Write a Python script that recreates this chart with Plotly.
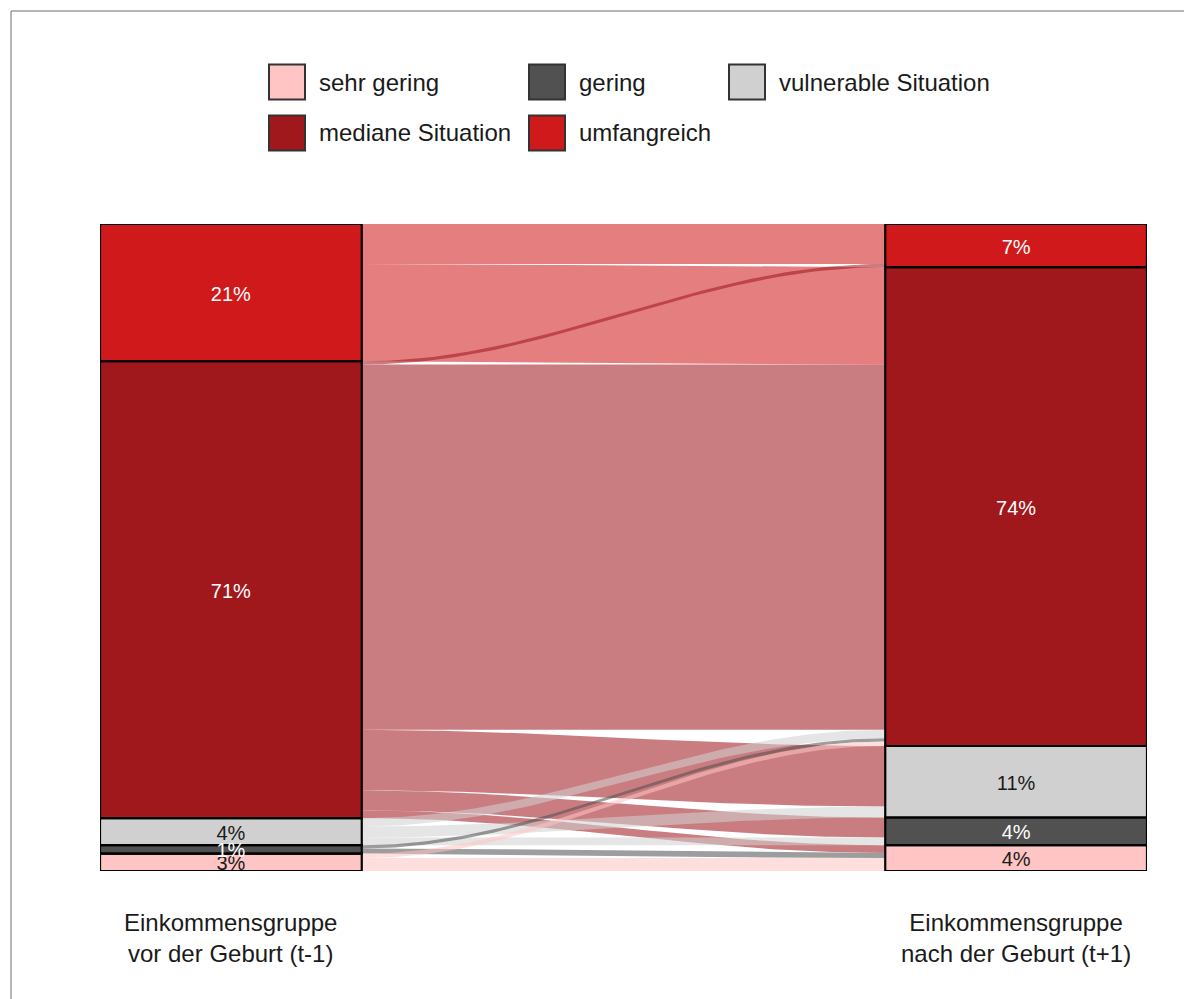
import numpy as np
import plotly.graph_objects as go

# ---------------- data ----------------
categories = ["sehr gering", "gering", "vulnerable Situation", "mediane Situation", "umfangreich"]
colors = ["#FFC4C4", "#515151", "#D0D0D0", "#A1181C", "#D0191B"]
label_colors = ["#1a1a1a", "#ffffff", "#1a1a1a", "#ffffff", "#ffffff"]

# flows: source category (t-1) -> target category (t+1), share in percent
flow_source = ["umfangreich", "umfangreich",
               "mediane Situation", "mediane Situation", "mediane Situation", "mediane Situation", "mediane Situation",
               "vulnerable Situation", "vulnerable Situation", "vulnerable Situation",
               "gering", "gering",
               "sehr gering", "sehr gering"]
flow_target = ["umfangreich", "mediane Situation",
               "umfangreich", "mediane Situation", "vulnerable Situation", "gering", "sehr gering",
               "mediane Situation", "vulnerable Situation", "gering",
               "mediane Situation", "sehr gering",
               "mediane Situation", "sehr gering"]
flow_value = [6.2, 15.1,
              0.5, 56.7, 9.4, 3.1, 1.2,
              1.3, 1.7, 1.2,
              0.5, 0.8,
              0.7, 2.0]

axis_labels = ["Einkommensgruppe<br>vor der Geburt (t-1)", "Einkommensgruppe<br>nach der Geburt (t+1)"]

# ---------------- layout helpers ----------------
OFF = 8  # page body margin
W, H = 1192 - OFF, 999 - OFF
ML, MT = 100 - OFF, 224 - OFF
MR = W - (1147 - OFF)
MB = H - (871 - OFF)
PW, PH = W - ML - MR, H - MT - MB
FONT = "Liberation Sans, Arial"

def px_x(p):
    return (p - OFF - ML) / PW
def px_y(p):
    return (H - MB - (p - OFF)) / PH

def rgba(hexc, a):
    h = hexc.lstrip("#")
    r, g, b = int(h[0:2], 16), int(h[2:4], 16), int(h[4:6], 16)
    return f"rgba({r},{g},{b},{a})"

idx = {c: i for i, c in enumerate(categories)}
total = sum(flow_value)
shares = [v / total * 100 for v in flow_value]

left_tot = [sum(s for s, src in zip(shares, flow_source) if src == c) for c in categories]
right_tot = [sum(s for s, tg in zip(shares, flow_target) if tg == c) for c in categories]

left_base = np.concatenate([[0], np.cumsum(left_tot)[:-1]])
right_base = np.concatenate([[0], np.cumsum(right_tot)[:-1]])

n = len(shares)
left_pos = [None] * n
right_pos = [None] * n
for c in categories:
    ids = [k for k in range(n) if flow_source[k] == c]
    ids.sort(key=lambda k: idx[flow_target[k]])
    y = left_base[idx[c]]
    for k in ids:
        left_pos[k] = (y, y + shares[k])
        y += shares[k]
    ids = [k for k in range(n) if flow_target[k] == c]
    ids.sort(key=lambda k: idx[flow_source[k]])
    y = right_base[idx[c]]
    for k in ids:
        right_pos[k] = (y, y + shares[k])
        y += shares[k]

x_left, x_right = 1, 2
bw = 1 / 3
xl_edge, xr_edge = x_left + bw / 2, x_right - bw / 2

fig = go.Figure()

# flows
t = np.linspace(0, 1, 80)
s = (1 - np.cos(np.pi * t)) / 2
xs = xl_edge + (xr_edge - xl_edge) * t
order = sorted(range(n), key=lambda k: -idx[flow_source[k]])
for k in order:
    (lb, lt), (rb, rt) = left_pos[k], right_pos[k]
    top = lt + (rt - lt) * s
    bot = lb + (rb - lb) * s
    px = np.concatenate([xs, xs[::-1]])
    py = np.concatenate([top, bot[::-1]])
    fig.add_trace(go.Scatter(x=px, y=py, mode="lines", fill="toself",
                             fillcolor=rgba(colors[idx[flow_source[k]]], 0.56),
                             line=dict(width=0), hoverinfo="skip", showlegend=False))

# strata (filled bars)
for i, c in enumerate(categories):
    fig.add_trace(go.Bar(x=[x_left, x_right], y=[left_tot[i], right_tot[i]], width=bw,
                         marker=dict(color=colors[i], line=dict(width=0)),
                         cliponaxis=False, showlegend=False, hoverinfo="skip"))

# strata outlines
ox, oy = [], []
for xx, base, tot in ((x_left, left_base, left_tot), (x_right, right_base, right_tot)):
    for i in range(len(categories)):
        y0, y1 = base[i], base[i] + tot[i]
        ox += [xx - bw / 2, xx + bw / 2, xx + bw / 2, xx - bw / 2, xx - bw / 2, None]
        oy += [y0, y0, y1, y1, y0, None]
fig.add_trace(go.Scatter(x=ox, y=oy, mode="lines", line=dict(color="black", width=2.2),
                         cliponaxis=False, showlegend=False, hoverinfo="skip"))

# stratum labels
label_shift = 3 / PH * 100  # small downward nudge (3 px)
lx, ly, lt_, lc = [], [], [], []
for i, c in enumerate(categories):
    for xx, base, tot in ((x_left, left_base, left_tot), (x_right, right_base, right_tot)):
        lx.append(xx)
        ly.append(base[i] + tot[i] / 2 - label_shift)
        lt_.append(f"{round(tot[i]):.0f}%")
        lc.append(label_colors[i])
fig.add_trace(go.Scatter(x=lx, y=ly, mode="text", text=lt_,
                         textfont=dict(family=FONT, size=20, color=lc),
                         cliponaxis=False, showlegend=False, hoverinfo="skip"))

# axis labels
for xx, lab in zip([x_left, x_right], axis_labels):
    fig.add_annotation(x=xx, xref="x", y=px_y(938), yref="paper", text=lab, showarrow=False,
                       font=dict(family=FONT, size=24, color="#1a1a1a"),
                       xanchor="center", yanchor="middle")

# legend (manual)
leg_pos = {"sehr gering": (269, 82), "gering": (529, 82), "vulnerable Situation": (729, 82),
           "mediane Situation": (269, 133), "umfangreich": (529, 133)}
for i, c in enumerate(categories):
    x0, yc = leg_pos[c]
    fig.add_shape(type="rect", xref="paper", yref="paper",
                  x0=px_x(x0), x1=px_x(x0 + 36), y0=px_y(yc - 17.5), y1=px_y(yc + 17.5),
                  fillcolor=colors[i], line=dict(color="#333333", width=2))
    fig.add_annotation(x=px_x(x0 + 48), y=px_y(yc), xref="paper", yref="paper", text=c,
                       showarrow=False, xanchor="left", yanchor="middle",
                       font=dict(family=FONT, size=24, color="#1a1a1a"))

# outer frame
fig.add_shape(type="rect", xref="paper", yref="paper", x0=px_x(11), x1=px_x(1260),
              y0=px_y(11), y1=px_y(1060), line=dict(color="#6e6e6e", width=1),
              fillcolor="rgba(0,0,0,0)", layer="below")

fig.update_layout(
    width=W, height=H, margin=dict(l=ML, r=MR, t=MT, b=MB),
    barmode="stack", bargap=0,
    plot_bgcolor="white", paper_bgcolor="white",
    xaxis=dict(range=[x_left - bw / 2, x_right + bw / 2], visible=False, fixedrange=True),
    yaxis=dict(range=[0, 100], visible=False, fixedrange=True),
    showlegend=False,
)

fig.write_html("out.html")
